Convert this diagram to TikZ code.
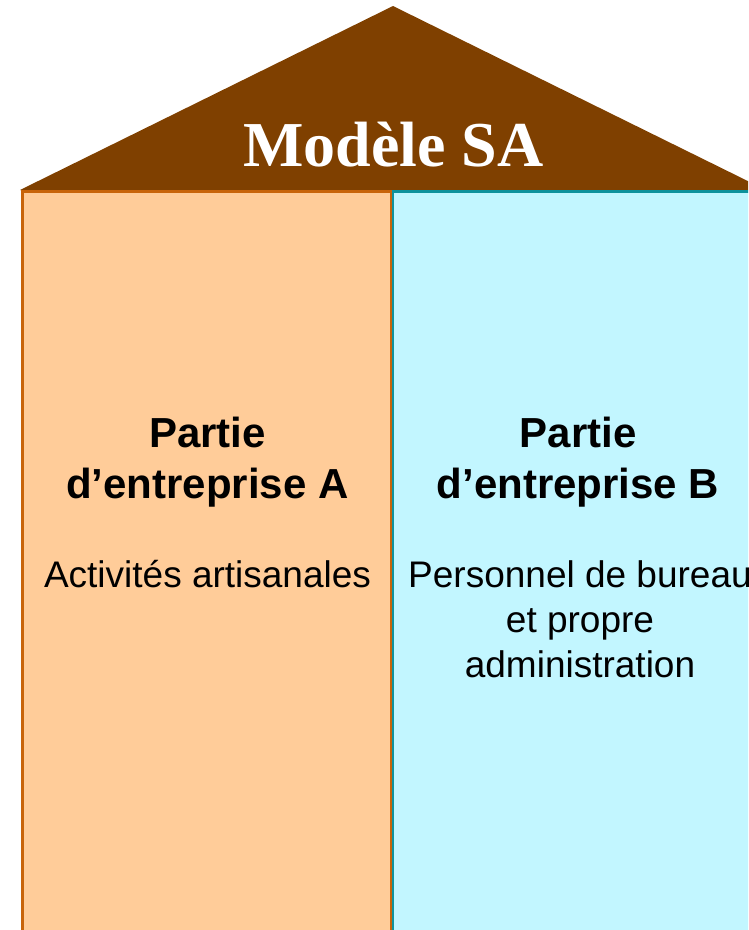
\documentclass[tikz,border=0pt]{standalone}
\usepackage{fontspec}
\setmainfont{Liberation Serif}
\setsansfont{Liberation Sans}
\definecolor{toit}{HTML}{7F4000}
\definecolor{orangefond}{HTML}{FFCC99}
\definecolor{orangebord}{HTML}{C8640A}
\definecolor{bleufond}{HTML}{C2F6FF}
\definecolor{bleubord}{HTML}{0E929C}
\usetikzlibrary{positioning}

\begin{document}
\begin{tikzpicture}[x=1pt,y=-1pt,
		every node/.style={anchor=base,inner sep=0pt,align=center},
		titre/.style={white,font=\fontsize{64}{76}\selectfont\bfseries},
		partie/.style={font=\fontsize{42}{51}\selectfont\sffamily\bfseries},
		detail/.style={font=\fontsize{37}{45}\selectfont\sffamily}]
				\clip (0,0) rectangle (748,930);
				\fill[toit] (20,190) -- (393,6) -- (766,190) -- cycle;
				\filldraw[fill=orangefond, draw=orangebord, line width=2.8pt] (22.5,191.5) rectangle (391.5,945);
				\filldraw[fill=bleufond, draw=bleubord, line width=2.8pt] (393,191.5) rectangle (765,945);
				\node[titre] (nt) at (393.5,166) {Modèle SA};
				\node[partie] (na) at (207.5,498) {Partie\\d’entreprise A};
				\node[partie] (nb) at (578,498) {Partie\\d’entreprise B};
				\node[detail] (da) at (207.5,587) {Activités artisanales};
				\node[detail] (db) at (580,677) {Personnel de bureau\\et propre\\administration};
			\end{tikzpicture}
\end{document}
